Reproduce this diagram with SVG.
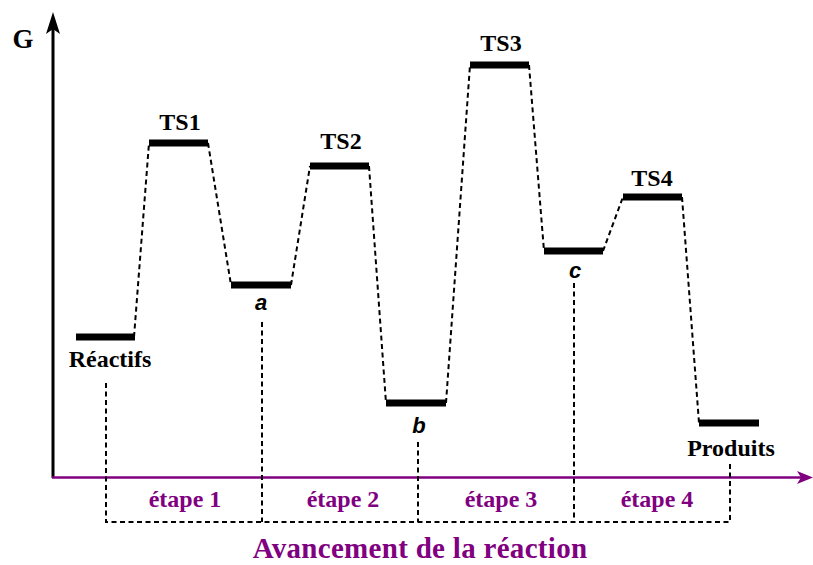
<svg xmlns="http://www.w3.org/2000/svg" width="813" height="565" viewBox="0 0 813 565">
  <style>
    .lvl { fill: #000; }
    .lbl { font-family: "Liberation Serif", "Times New Roman", serif; font-weight: bold; font-size: 24px; fill: #000; text-anchor: middle; }
    .axis-name { font-size: 27px; }
    .int { font-family: "Liberation Sans", Arial, sans-serif; font-weight: bold; font-style: italic; font-size: 22px; fill: #000; text-anchor: middle; }
    .step { font-family: "Liberation Serif", "Times New Roman", serif; font-weight: bold; font-size: 24px; fill: #800080; text-anchor: middle; }
    .title { font-family: "Liberation Serif", "Times New Roman", serif; font-weight: bold; font-size: 29px; fill: #800080; text-anchor: middle; letter-spacing: 0.3px; }
    .dash { fill: none; stroke: #000; stroke-width: 2; stroke-dasharray: 5 3.5; }
  </style>

  <!-- axes -->
  <g id="axes">
    <line x1="53" y1="478" x2="53" y2="28" stroke="#000" stroke-width="3"/>
    <path d="M53 12 L60 34 L53 29 L46 34 Z" fill="#000"/>
    <line x1="52" y1="477.5" x2="802" y2="477.5" stroke="#800080" stroke-width="2.5"/>
    <path d="M813 477.5 L797 471 L801 477.5 L797 484 Z" fill="#800080"/>
    <text x="23" y="48" class="lbl axis-name">G</text>
    <text x="420" y="558" class="title">Avancement de la réaction</text>
  </g>

  <!-- reaction path connectors -->
  <g id="connectors">
    <path class="dash" d="M134 337 L149 143"/>
    <path class="dash" d="M208 143 L231 285"/>
    <path class="dash" d="M291 285 L310 166"/>
    <path class="dash" d="M369 166 L386 403"/>
    <path class="dash" d="M446 403 L470 65"/>
    <path class="dash" d="M529 65 L544 251"/>
    <path class="dash" d="M603 251 L623 197"/>
    <path class="dash" d="M682 197 L699 423"/>
    <!-- step brackets -->
    <path class="dash" d="M106 383 L106 522 L730 522 L730 464"/>
    <path class="dash" d="M262 322 L262 522"/>
    <path class="dash" d="M418 442 L418 522"/>
    <path class="dash" d="M574 283 L574 522"/>
  </g>

  <g id="reactifs">
    <rect class="lvl" x="76" y="333.5" width="59" height="7"/>
    <text x="110" y="367" class="lbl">Réactifs</text>
  </g>
  <g id="ts1">
    <rect class="lvl" x="149" y="139.5" width="59" height="7"/>
    <text x="180" y="130" class="lbl">TS1</text>
  </g>
  <g id="int-a">
    <rect class="lvl" x="231" y="281.5" width="60" height="7"/>
    <text x="261" y="310" class="int">a</text>
  </g>
  <g id="ts2">
    <rect class="lvl" x="310" y="162.5" width="59" height="7"/>
    <text x="341" y="149" class="lbl">TS2</text>
  </g>
  <g id="int-b">
    <rect class="lvl" x="386" y="399.5" width="60" height="7"/>
    <text x="419" y="433" class="int">b</text>
  </g>
  <g id="ts3">
    <rect class="lvl" x="470" y="61.5" width="59" height="7"/>
    <text x="501" y="51" class="lbl">TS3</text>
  </g>
  <g id="int-c">
    <rect class="lvl" x="544" y="247.5" width="59" height="7"/>
    <text x="575" y="278" class="int">c</text>
  </g>
  <g id="ts4">
    <rect class="lvl" x="623" y="193.5" width="59" height="7"/>
    <text x="652" y="186" class="lbl">TS4</text>
  </g>
  <g id="produits">
    <rect class="lvl" x="699" y="419.5" width="60" height="7"/>
    <text x="731" y="456" class="lbl">Produits</text>
  </g>

  <g id="steps">
    <text x="185" y="507" class="step">étape 1</text>
    <text x="343" y="507" class="step">étape 2</text>
    <text x="501" y="507" class="step">étape 3</text>
    <text x="657" y="507" class="step">étape 4</text>
  </g>
</svg>
